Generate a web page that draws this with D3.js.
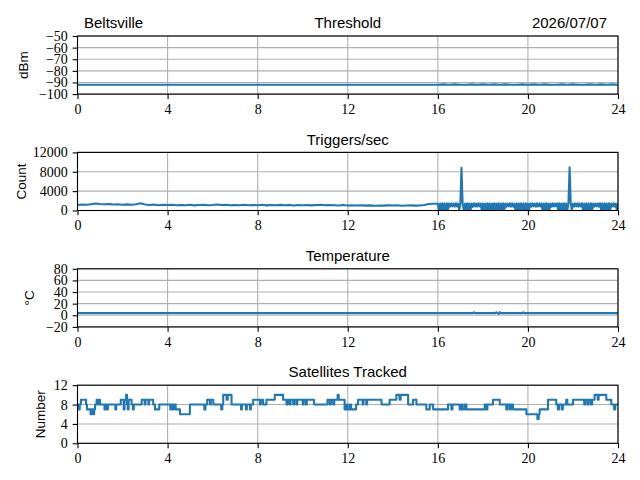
<!DOCTYPE html>
<html>
<head>
<meta charset="utf-8">
<script src="https://cdn.jsdelivr.net/npm/d3@7"></script>
<style>
  body { margin: 0; background: #fff; }
</style>
</head>
<body>
<svg id="chart" width="640" height="480"></svg>
<script>
// figure layout
let plotLeft = 77.5;
let plotRight = 618;
let plotTop = 36;
let plotH = 58.1;
let plotPitch = 116.4;
let tickLen = 4.86;
let blue = "#1f77b4";
let gridGray = "#b0b0b0";

//////////////////////////
// Data
//////////////////////////
let xTicks = [0, 4, 8, 12, 16, 20, 24];
let thresholdTicks = [-100, -90, -80, -70, -60, -50];
let triggerTicks = [0, 4000, 8000, 12000];
let tempTicks = [-20, 0, 20, 40, 60, 80];
let satTicks = [0, 4, 8, 12];

// threshold dBm: 0..12h every 4h, then from 16h every 0.25h
let thresholdEarly = [-92, -92, -92, -92];
let thresholdLate = [-92, -91.6, -92, -91.6, -92, -92,
  -91.6, -92, -91.6, -92, -91.6, -92,
  -91.6, -92, -92,
  -91.6, -92, -91.6, -92, -91.6, -92,
  -92, -91.6, -92, -91.6, -92, -92,
  -91.6, -92, -91.6, -92, -91.6, -92];

// triggers/sec: 0..15.8h every 0.2h
let triggersEarly = [1150, 1250, 1200, 1300, 1450,
  1350, 1280, 1320, 1250, 1300,
  1200, 1260, 1180, 1300, 1500,
  1250, 1150, 1220, 1100, 1180,
  1120, 1200, 1080, 1150, 1100,
  1180, 1060, 1140, 1200, 1100,
  1150, 1250, 1120, 1180, 1080,
  1140, 1100, 1190, 1070, 1150,
  1100, 1180, 1060, 1130, 1090,
  1160, 1080, 1140, 1050, 1120,
  1090, 1150, 1060, 1130, 1180,
  1070, 1140, 1100, 1050, 1120,
  1040, 1100, 1020, 1080, 1000,
  1060, 990, 1050, 1010, 1080,
  1030, 1070, 980, 1040, 1060,
  1000, 1050, 1150, 1350, 1400];
// triggers/sec: 16..24h every 0.05h
let triggersLate = [1400, 80, 1450, 40, 1500, 120, 1420, 60, 1480, 90,
  1440, 820, 1460, 850, 1420, 780, 1500, 820, 1450, 50,
  1430, 8800, 1470, 70, 1410, 30, 1490, 110, 1450, 60,
  1420, 760, 1480, 830, 1440, 800, 1500, 850, 1430, 40,
  1460, 90, 1410, 50, 1490, 70, 1450, 120, 1420, 30,
  1480, 80, 1440, 60, 1500, 100, 1430, 40, 1470, 70,
  1450, 790, 1410, 840, 1490, 810, 1460, 770, 1420, 60,
  1480, 90, 1440, 50, 1500, 110, 1430, 30, 1470, 80,
  1410, 60, 1460, 800, 1490, 850, 1440, 780, 1480, 820,
  1430, 830, 1470, 40, 1420, 70, 1500, 100, 1450, 50,
  1410, 790, 1480, 820, 1440, 860, 1460, 60, 1490, 90,
  1430, 30, 1470, 110, 1420, 60, 1500, 8900, 1450, 80,
  1410, 800, 1460, 840, 1490, 770, 1440, 830, 1480, 40,
  1430, 90, 1470, 50, 1420, 100, 1500, 60, 1450, 810,
  1410, 850, 1460, 790, 1490, 70, 1440, 30, 1480, 110,
  1430, 60, 1470, 80, 1420, 820, 1500, 800, 1450, 40,
  1460];

// temperature
let tempHours = [0, 17.55, 17.6, 17.65, 18.55, 18.6, 18.65, 18.7, 18.75, 18.8, 19.75, 19.8, 19.85, 24];
let tempValues = [3.7, 3.7, 5.3, 3.7, 3.7, 5.3, 3.7, 2.2, 5.3, 3.7, 3.7, 5.3, 3.7, 3.7];

// satellites tracked (value holds from each hour to the next)
let satHours = [0, 0.05, 0.1, 0.15, 0.38, 0.42, 0.58, 0.62, 0.7, 0.74, 0.78, 0.85, 0.92, 0.95, 1.0,
  1.2, 1.25, 1.3, 1.35, 1.68, 1.72, 1.92, 2.05, 2.09, 2.16, 2.2, 2.23, 2.27, 2.4, 2.46, 2.5,
  2.85, 2.98, 3.02, 3.15, 3.18, 3.36, 3.44, 3.63, 4.12, 4.16, 4.24, 4.28, 4.36, 4.55, 4.99,
  5.63, 5.68, 5.76, 5.88, 5.92, 6.03, 6.38, 6.43, 6.47, 6.62, 6.67, 6.84, 7.26, 7.3, 7.48, 7.52,
  7.66, 7.7, 7.8, 8.1, 8.14, 8.24, 8.39, 8.76, 9.13, 9.28, 9.33, 9.42, 9.46, 9.58, 9.62, 9.72,
  9.76, 10.0, 10.04, 10.14, 10.18, 10.5,
  11.1, 11.2, 11.25, 11.35, 11.4, 11.55, 11.6, 11.86, 11.95, 12.0, 12.1, 12.15, 12.37, 12.46,
  12.66, 12.7, 12.82, 12.86, 13.5, 13.86, 14.16, 14.3, 14.35, 14.68, 14.9, 15.05, 15.49, 15.64,
  15.79, 16.45, 16.6, 16.65, 16.97, 17.05, 17.1, 17.2, 17.27, 18.08, 18.15, 18.2, 18.45, 18.75,
  19.04, 19.1, 19.2, 19.25, 19.34, 19.93, 20.42, 20.48, 20.52, 20.89, 21.26, 21.33, 21.38, 21.5,
  21.55, 21.7, 21.75, 22.0, 22.5, 22.55, 22.65, 22.7, 22.8, 22.85, 22.96, 23.1, 23.14, 23.48,
  23.7, 23.83, 23.88, 24];
let satCounts = [8, 7, 8, 9, 8, 7, 6, 7, 6, 7, 8, 9, 8, 9, 8,
  7, 8, 7, 8, 7, 8, 9, 7, 9, 10, 8, 7, 9, 8, 7, 8,
  9, 8, 9, 8, 9, 8, 7, 8, 7, 8, 7, 8, 7, 6, 8,
  7, 8, 9, 8, 9, 8, 7, 8, 10, 9, 10, 8, 7, 8, 7, 8,
  7, 8, 9, 8, 9, 8, 9, 10, 9, 8, 9, 8, 9, 8, 9, 8,
  9, 8, 9, 8, 9, 8,
  9, 8, 9, 8, 9, 10, 9, 7, 8, 7, 8, 7, 8, 9,
  8, 9, 8, 9, 8, 9, 10, 9, 10, 8, 9, 8, 7, 8,
  7, 8, 7, 8, 7, 8, 7, 8, 7, 8, 7, 8, 9, 8,
  7, 8, 7, 8, 7, 6, 5, 6, 7, 9, 8, 7, 8, 7,
  8, 9, 8, 9, 8, 9, 8, 9, 8, 9, 10, 9, 10, 9,
  8, 7, 8, 8];

//////////////////////////
// Utils
//////////////////////////
function samples(start, step, values){
  return values.map((v, i) => ({h: start + i * step, v: v}));
}
function pairs(hours, values){
  return hours.map((h, i) => ({h: h, v: values[i]}));
}

let panels = [
  {title: "Threshold", ylabel: "dBm", labelX: 27.5, domain: [-100, -50], ticks: thresholdTicks,
    data: samples(0, 4, thresholdEarly).concat(samples(16, 0.25, thresholdLate)), curve: d3.curveLinear},
  {title: "Triggers/sec", ylabel: "Count", labelX: 25.5, domain: [0, 12000], ticks: triggerTicks,
    data: samples(0, 0.2, triggersEarly).concat(samples(16, 0.05, triggersLate)), curve: d3.curveLinear},
  {title: "Temperature", ylabel: "°C", labelX: 34, domain: [-20, 80], ticks: tempTicks,
    data: pairs(tempHours, tempValues), curve: d3.curveLinear},
  {title: "Satellites Tracked", ylabel: "Number", labelX: 45, domain: [0, 12], ticks: satTicks,
    data: pairs(satHours, satCounts), curve: d3.curveStepAfter}
];

//////////////////////////
// Drawing
//////////////////////////
let svg = d3.select("#chart");
let sans = "Liberation Sans, Arial, sans-serif";
let serif = "Liberation Serif, Times New Roman, serif";

let x = d3.scaleLinear().domain([0, 24]).range([plotLeft, plotRight]);

panels.forEach((p, i) => {
  let top = plotTop + i * plotPitch;
  let bottom = top + plotH;
  let y = d3.scaleLinear().domain(p.domain).range([bottom, top]);
  let g = svg.append("g");

  //grid
  g.append("g").selectAll("line")
    .data(xTicks)
    .enter().append("line")
    .attr("x1", d => x(d)).attr("x2", d => x(d))
    .attr("y1", top).attr("y2", bottom)
    .attr("stroke", gridGray).attr("stroke-width", 1.1);
  g.append("g").selectAll("line")
    .data(p.ticks)
    .enter().append("line")
    .attr("x1", plotLeft).attr("x2", plotRight)
    .attr("y1", d => y(d)).attr("y2", d => y(d))
    .attr("stroke", gridGray).attr("stroke-width", 1.1);

  //clip
  svg.append("clipPath").attr("id", "clip" + i)
    .append("rect")
    .attr("x", plotLeft).attr("y", top)
    .attr("width", plotRight - plotLeft).attr("height", plotH);

  //series
  let line = d3.line()
    .x(d => x(d.h))
    .y(d => y(d.v))
    .curve(p.curve);
  g.append("path")
    .datum(p.data)
    .attr("clip-path", "url(#clip" + i + ")")
    .attr("fill", "none")
    .attr("stroke", blue)
    .attr("stroke-width", 2.08)
    .attr("stroke-linejoin", "round")
    .attr("d", line);

  //frame
  g.append("rect")
    .attr("x", plotLeft).attr("y", top)
    .attr("width", plotRight - plotLeft).attr("height", plotH)
    .attr("fill", "none").attr("stroke", "black").attr("stroke-width", 1.1);

  //axes
  let xAxis = g.append("g")
    .attr("transform", `translate(0,${bottom})`)
    .call(d3.axisBottom(x).tickValues(xTicks).tickSize(tickLen).tickPadding(tickLen).tickFormat(d3.format("d")));
  let yAxis = g.append("g")
    .attr("transform", `translate(${plotLeft},0)`)
    .call(d3.axisLeft(y).tickValues(p.ticks).tickSize(tickLen).tickPadding(tickLen).tickFormat(d3.format("d")));
  [xAxis, yAxis].forEach(a => {
    a.attr("font-family", serif).attr("font-size", 14);
    a.select(".domain").remove();
    a.selectAll("line").attr("stroke", "black").attr("stroke-width", 1.1);
    a.selectAll("text").attr("fill", "black");
  });

  //title
  g.append("text")
    .attr("x", (plotLeft + plotRight) / 2)
    .attr("y", top - 7.8)
    .attr("text-anchor", "middle")
    .attr("font-family", sans)
    .attr("font-size", 15)
    .text(p.title);

  //y label
  g.append("text")
    .attr("transform", `translate(${p.labelX},${(top + bottom) / 2}) rotate(-90)`)
    .attr("text-anchor", "middle")
    .attr("font-family", sans)
    .attr("font-size", 13.5)
    .text(p.ylabel);
});

//header
svg.append("text")
  .attr("x", 84).attr("y", plotTop - 7.8)
  .attr("font-family", sans).attr("font-size", 15)
  .text("Beltsville");
svg.append("text")
  .attr("x", 607).attr("y", plotTop - 7.8)
  .attr("text-anchor", "end")
  .attr("font-family", sans).attr("font-size", 15)
  .text("2026/07/07");
</script>
</body>
</html>
